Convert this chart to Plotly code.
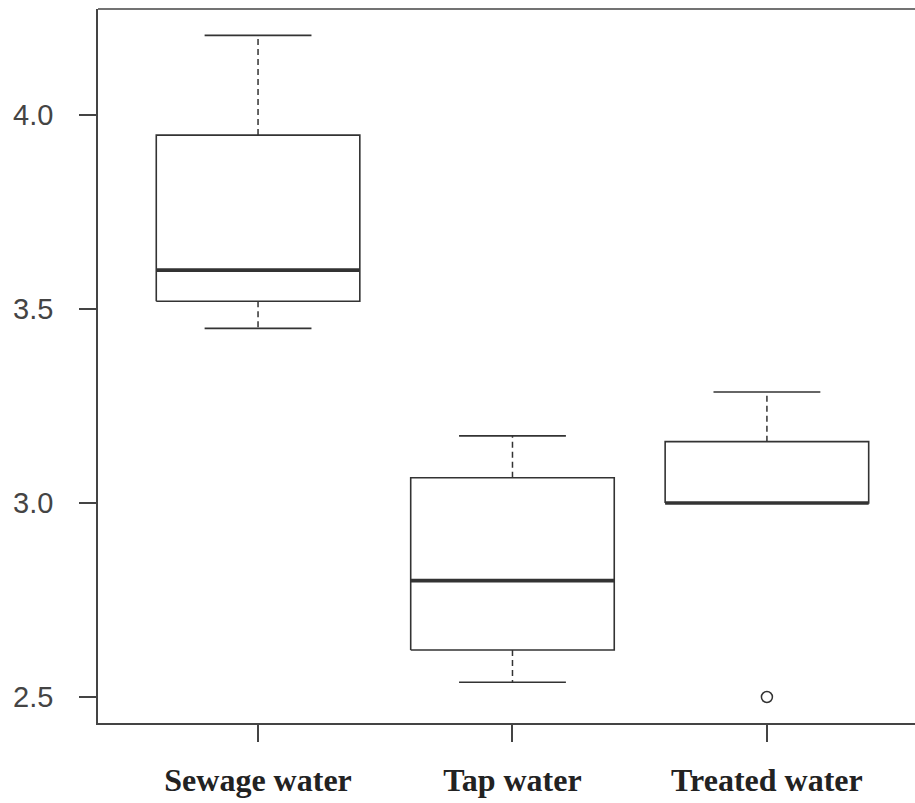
import plotly.graph_objects as go

# Summary statistics per water source
categories = ["Sewage water", "Tap water", "Treated water"]
lower_whisker = [3.45, 2.538, 3.00]
q1 = [3.52, 2.621, 3.00]
median = [3.60, 2.80, 3.00]
q3 = [3.948, 3.065, 3.158]
upper_whisker = [4.205, 3.173, 3.286]
outlier_values = [[], [], [2.50]]

y_tickvals = [2.5, 3.0, 3.5, 4.0]

BOX_W = 0.8
STAPLE_W = 0.42
LINE = "#333333"

positions = list(range(1, len(categories) + 1))

box_x, box_y = [], []
med_x, med_y = [], []
whisk_x, whisk_y = [], []
staple_x, staple_y = [], []
out_x, out_y = [], []

for pos, lo, a, m, b, hi, outs in zip(positions, lower_whisker, q1, median, q3,
                                      upper_whisker, outlier_values):
    l, r = pos - BOX_W / 2, pos + BOX_W / 2
    box_x += [l, r, r, l, l, None]
    box_y += [a, a, b, b, a, None]
    med_x += [l, r, None]
    med_y += [m, m, None]
    whisk_x += [pos, pos, None, pos, pos, None]
    whisk_y += [b, hi, None, a, lo, None]
    sl, sr = pos - STAPLE_W / 2, pos + STAPLE_W / 2
    staple_x += [sl, sr, None, sl, sr, None]
    staple_y += [hi, hi, None, lo, lo, None]
    for v in outs:
        out_x.append(pos)
        out_y.append(v)

fig = go.Figure()
fig.add_trace(go.Scatter(x=whisk_x, y=whisk_y, mode="lines",
                         line=dict(color=LINE, width=1.5, dash="6px,4px"),
                         hoverinfo="skip"))
fig.add_trace(go.Scatter(x=staple_x, y=staple_y, mode="lines",
                         line=dict(color=LINE, width=1.6), hoverinfo="skip"))
fig.add_trace(go.Scatter(x=box_x, y=box_y, mode="lines",
                         line=dict(color=LINE, width=1.6), hoverinfo="skip"))
fig.add_trace(go.Scatter(x=med_x, y=med_y, mode="lines",
                         line=dict(color=LINE, width=3.6), hoverinfo="skip"))
fig.add_trace(go.Scatter(x=out_x, y=out_y, mode="markers",
                         marker=dict(symbol="circle-open", size=11,
                                     color=LINE, line=dict(width=1.5)),
                         hoverinfo="skip"))

# top border of the plotting frame
fig.add_shape(type="line", xref="paper", yref="paper", x0=0, x1=1, y0=1, y1=1,
              line=dict(color="#444444", width=1.5))

fig.update_layout(
    width=915, height=803,
    margin=dict(l=98, r=0, t=9, b=80),
    paper_bgcolor="white", plot_bgcolor="white",
    showlegend=False,
    xaxis=dict(
        range=[0.371, 3.582],
        tickmode="array", tickvals=positions, ticktext=categories,
        showgrid=False, zeroline=False,
        showline=True, linecolor="#444444", linewidth=1.5,
        ticks="outside", ticklen=17, tickwidth=1.5, tickcolor="#444444",
        ticklabelstandoff=11,
        tickfont=dict(family="Liberation Serif", size=32, color="#222222",
                      weight="bold"),
    ),
    yaxis=dict(
        range=[2.433, 4.273],
        tickmode="array", tickvals=y_tickvals, tickformat=".1f",
        showgrid=False, zeroline=False,
        showline=True, linecolor="#444444", linewidth=1.5,
        ticks="outside", ticklen=17, tickwidth=1.5, tickcolor="#444444",
        ticklabelstandoff=20,
        tickfont=dict(family="Liberation Sans", size=29, color="#444444"),
    ),
)

fig.write_html("out.html")
